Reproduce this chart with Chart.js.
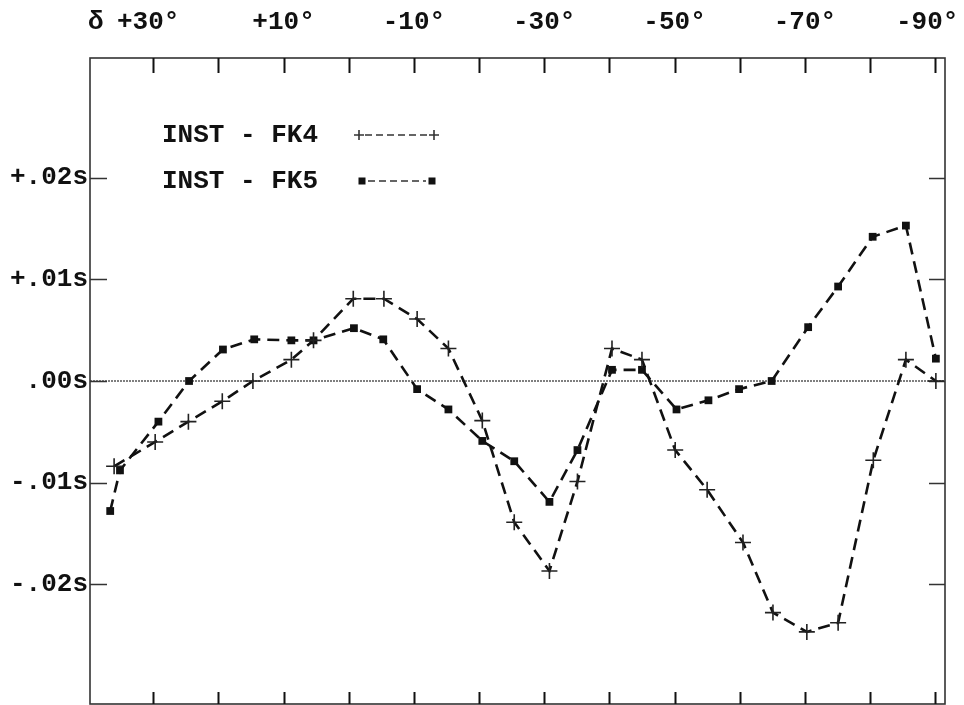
<!DOCTYPE html>
<html>
<head>
<meta charset="utf-8">
<title>INST - FK4 / INST - FK5</title>
<script src="https://cdn.jsdelivr.net/npm/chart.js@4.4.1/dist/chart.umd.min.js"></script>
<style>
	html, body { margin: 0; padding: 0; background: #fff; }
	canvas { display: block; }
</style>
</head>
<body>
<canvas id="declChart" width="964" height="705"></canvas>
<script>
// declination of each zone (degrees) and residuals in seconds
var fk5Decl = [36.6, 35.1, 29.2, 24.5, 19.3, 14.5, 8.8, 5.4, -0.8, -5.3, -10.5, -15.3, -20.5, -25.4, -30.8, -35.1, -40.4, -45.0, -50.3, -55.2, -59.9, -64.9, -70.5, -75.1, -80.4, -85.5, -90.1];
var fk5Values = [-0.0128, -0.0088, -0.0040, 0.0000, 0.0031, 0.0041, 0.0040, 0.0040, 0.0052, 0.0041, -0.0008, -0.0028, -0.0059, -0.0079, -0.0119, -0.0068, 0.0011, 0.0011, -0.0028, -0.0019, -0.0008, 0.0000, 0.0053, 0.0093, 0.0142, 0.0153, 0.0022];

var fk4Decl = [36.0, 29.7, 24.6, 19.4, 14.7, 8.8, 5.4, -0.7, -5.4, -10.5, -15.3, -20.5, -25.4, -30.8, -35.1, -40.4, -45.0, -50.1, -55.0, -60.5, -65.1, -70.3, -75.1, -80.5, -85.5, -90.1];
var fk4Values = [-0.0084, -0.0060, -0.0040, -0.0020, 0.0000, 0.0021, 0.0040, 0.0081, 0.0081, 0.0061, 0.0032, -0.0039, -0.0139, -0.0187, -0.0099, 0.0032, 0.0021, -0.0068, -0.0107, -0.0159, -0.0228, -0.0247, -0.0238, -0.0078, 0.0021, 0.0000];

// axis ticks
var declTicks = [30, 20, 10, 0, -10, -20, -30, -40, -50, -60, -70, -80, -90];
var declLabelValues = [30, 10, -10, -30, -50, -70, -90];
var declLabels = ['+30°', '+10°', '-10°', '-30°', '-50°', '-70°', '-90°'];
var secTicks = [0.02, 0.01, 0, -0.01, -0.02];
var secLabels = ['+.02s', '+.01s', '.00s', '-.01s', '-.02s'];

var seriesNames = ['INST - FK4', 'INST - FK5'];

function toPoints(xs, ys) {
	var pts = [];
	for (var i = 0; i < xs.length; i++) {
		pts.push({ x: xs[i], y: ys[i] });
	}
	return pts;
}

var FONT = "bold 26px 'Liberation Mono', 'DejaVu Sans Mono', monospace";
var INK = '#111';

// frame, inward ticks, zero line, labels and the legend
var framePlugin = {
	id: 'frame',
	beforeDraw: function(chart) {
		var ctx = chart.ctx;
		ctx.save();
		ctx.fillStyle = '#fff';
		ctx.fillRect(0, 0, chart.width, chart.height);
		ctx.restore();
	},
	beforeDatasetsDraw: function(chart) {
		var ctx = chart.ctx;
		var a = chart.chartArea;
		var xs = chart.scales.x, ys = chart.scales.y;
		ctx.save();

		// zero line (dotted)
		ctx.strokeStyle = '#555';
		ctx.lineWidth = 1.3;
		ctx.setLineDash([2, 1]);
		ctx.beginPath();
		ctx.moveTo(a.left, ys.getPixelForValue(0));
		ctx.lineTo(a.right, ys.getPixelForValue(0));
		ctx.stroke();
		ctx.setLineDash([]);

		// frame
		ctx.strokeStyle = '#333';
		ctx.lineWidth = 1.6;
		ctx.strokeRect(a.left, a.top, a.right - a.left, a.bottom - a.top);

		// ticks along top and bottom
		ctx.strokeStyle = INK;
		ctx.lineWidth = 2;
		declTicks.forEach(function(v) {
			var px = Math.round(xs.getPixelForValue(v)) + 0.5;
			ctx.beginPath();
			ctx.moveTo(px, a.top);
			ctx.lineTo(px, a.top + 15);
			ctx.moveTo(px, a.bottom);
			ctx.lineTo(px, a.bottom - 12);
			ctx.stroke();
		});

		// ticks left and right
		ctx.lineWidth = 1.5;
		ctx.strokeStyle = '#333';
		secTicks.forEach(function(v) {
			var py = Math.round(ys.getPixelForValue(v)) + 0.5;
			ctx.beginPath();
			ctx.moveTo(a.left, py);
			ctx.lineTo(a.left + 17, py);
			ctx.moveTo(a.right, py);
			ctx.lineTo(a.right - 16, py);
			ctx.stroke();
		});
		ctx.restore();
	},
	afterDraw: function(chart) {
		var ctx = chart.ctx;
		var a = chart.chartArea;
		var xs = chart.scales.x, ys = chart.scales.y;
		ctx.save();
		ctx.font = FONT;
		ctx.fillStyle = INK;

		// declination labels on top
		ctx.textBaseline = 'middle';
		ctx.textAlign = 'center';
		declLabelValues.forEach(function(v, i) {
			var px = xs.getPixelForValue(v);
			if (i === 0) px -= 5;
			if (i === declLabelValues.length - 1) px -= 8;
			ctx.fillText(declLabels[i], px, 22);
		});
		ctx.textAlign = 'left';
		ctx.fillText('δ', a.left - 2, 22);

		// seconds labels on the left
		ctx.textAlign = 'right';
		secTicks.forEach(function(v, i) {
			ctx.fillText(secLabels[i], a.left - 2, ys.getPixelForValue(v));
		});

		// legend
		ctx.textAlign = 'left';
		var rows = [135, 181];
		chart.data.datasets.forEach(function(ds, i) {
			var y = rows[i];
			ctx.fillStyle = INK;
			ctx.fillText(seriesNames[i], 162, y);
			var x0 = i === 0 ? 359 : 362, x1 = i === 0 ? 434 : 432;
			ctx.strokeStyle = '#333';
			ctx.lineWidth = 1.4;
			ctx.setLineDash([7, 4]);
			ctx.beginPath();
			ctx.moveTo(x0 + 6, y);
			ctx.lineTo(x1 - 6, y);
			ctx.stroke();
			ctx.setLineDash([]);
			[x0, x1].forEach(function(px) {
				if (ds.pointStyle === 'cross') {
					ctx.lineWidth = 1.6;
					ctx.beginPath();
					ctx.moveTo(px - 5, y);
					ctx.lineTo(px + 5, y);
					ctx.moveTo(px, y - 5);
					ctx.lineTo(px, y + 5);
					ctx.stroke();
				} else {
					ctx.fillStyle = INK;
					ctx.fillRect(px - 3.5, y - 3.5, 7, 7);
				}
			});
		});
		ctx.restore();
	}
};

var ctx = document.getElementById('declChart').getContext('2d');
var declChart = new Chart(ctx, {
	type: 'line',
	data: {
		datasets: [{
			label: seriesNames[0],
			data: toPoints(fk4Decl, fk4Values),
			borderColor: INK,
			borderWidth: 2.6,
			borderDash: [12, 7],
			pointStyle: 'cross',
			pointRadius: 8,
			pointBorderWidth: 1.6,
			pointBorderColor: '#222',
			tension: 0,
			fill: false
		}, {
			label: seriesNames[1],
			data: toPoints(fk5Decl, fk5Values),
			borderColor: INK,
			borderWidth: 2.6,
			borderDash: [12, 7],
			pointStyle: 'rect',
			pointRadius: 5.5,
			pointBackgroundColor: INK,
			pointBorderColor: INK,
			pointBorderWidth: 0,
			tension: 0,
			fill: false
		}]
	},
	options: {
		responsive: false,
		animation: false,
		devicePixelRatio: 1,
		layout: { autoPadding: false, padding: { left: 90, right: 19, top: 58, bottom: 1 } },
		plugins: {
			legend: { display: false },
			tooltip: { enabled: false }
		},
		scales: {
			x: { type: 'linear', reverse: true, min: -91.5, max: 39.7, display: false },
			y: { type: 'linear', min: -0.0318, max: 0.0318, display: false }
		}
	},
	plugins: [framePlugin]
});
</script>
</body>
</html>
